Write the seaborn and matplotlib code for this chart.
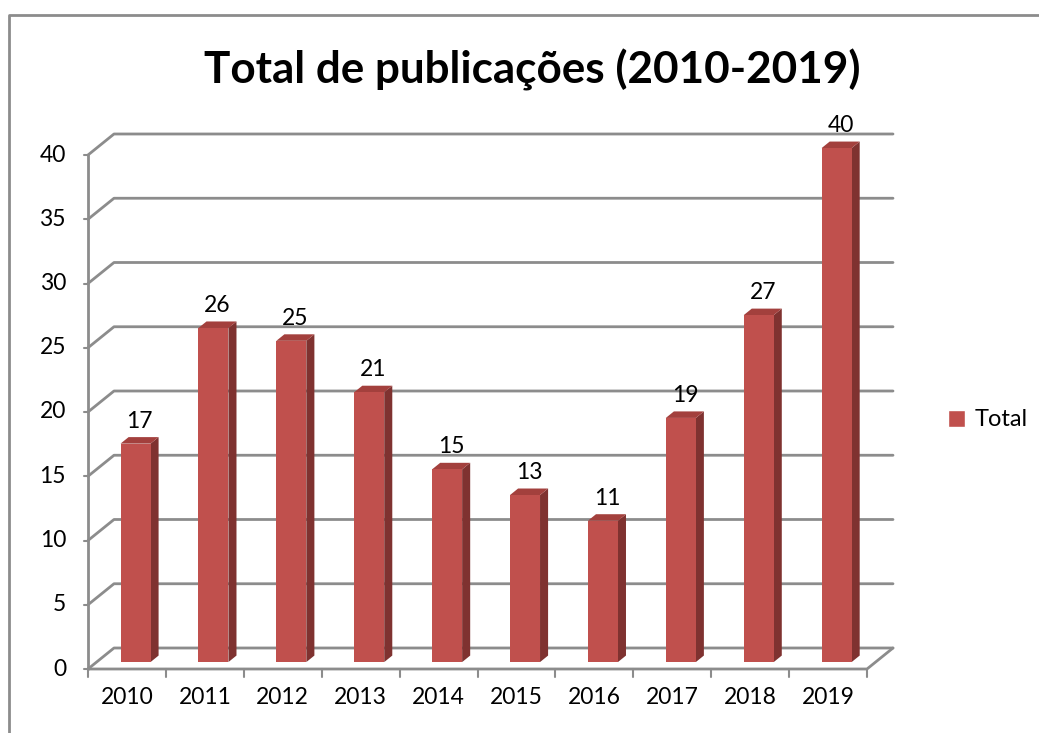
import matplotlib
matplotlib.use("Agg")
import matplotlib.pyplot as plt
import seaborn as sns
import pandas as pd
from matplotlib.patches import Polygon, Patch
from matplotlib.lines import Line2D

# ---- data ----
years = ["2010", "2011", "2012", "2013", "2014", "2015", "2016", "2017", "2018", "2019"]
totals = [17, 26, 25, 21, 15, 13, 11, 19, 27, 40]
series_name = "Total"
title = "Total de publicações (2010-2019)"
y_ticks = [0, 5, 10, 15, 20, 25, 30, 35, 40]

# ---- style ----
sns.set_style("white")
plt.rcParams["font.family"] = ["Lato", "DejaVu Sans"]
plt.rcParams["text.color"] = "black"
plt.rcParams["xtick.color"] = "black"
plt.rcParams["ytick.color"] = "black"

FRONT = "#C0504D"
SIDE = "#7F3230"
TOP = "#A3403D"
GRID = "#8C8C8C"
FS = 16.5

W, H = 1039, 733
fig = plt.figure(figsize=(W / 100, H / 100), dpi=100)

# geometry in pixels (front plane)
px_left, px_cat = 88, 77.9
py_zero, py_unit = 669, 12.85
ax_right_px, ax_top_px = 900, 130
xmin = -0.5
xmax = xmin + (ax_right_px - px_left) / px_cat
ymax = (py_zero - ax_top_px) / py_unit
ax = fig.add_axes([px_left / W, (H - py_zero) / H,
                   (ax_right_px - px_left) / W, (py_zero - ax_top_px) / H])

# 3D depth vector (data units)
DX = 26 / px_cat
DY = 21 / py_unit
F0, FD = 0.33, 0.31  # bar front depth fraction, bar depth fraction

df = pd.DataFrame({"year": years, "total": totals})
sns.barplot(data=df, x="year", y="total", color=FRONT, width=0.385,
            saturation=1, ax=ax, zorder=5, edgecolor="none")

# gridlines on back wall + side wall
for v in y_ticks:
    ax.add_line(Line2D([xmin, xmin + DX, 9.5 + DX], [v, v + DY, v + DY],
                       color=GRID, lw=2, zorder=1, clip_on=False))
# front axis line, floor front edge, floor right edge
ax.add_line(Line2D([xmin, xmin], [0, 40], color=GRID, lw=2, zorder=1, clip_on=False))
ax.add_line(Line2D([xmin, 9.5, 9.5 + DX], [0, 0, DY], color=GRID, lw=2, zorder=1, clip_on=False))
# y ticks
tick_dx = 4 / px_cat
for v in y_ticks:
    ax.add_line(Line2D([xmin - tick_dx, xmin], [v, v], color=GRID, lw=1.5, clip_on=False))
    ax.text(xmin - 22 / px_cat, v, str(v), ha="right", va="center", fontsize=FS)
# x ticks (category boundaries)
for i in range(len(years) + 1):
    ax.add_line(Line2D([i - 0.5, i - 0.5], [0, -8 / py_unit], color=GRID, lw=1.5, clip_on=False))

# 3D bars
bdx, bdy = FD * DX, FD * DY
for p, val in zip(ax.patches, totals):
    p.set_x(p.get_x() + F0 * DX)
    p.set_y(F0 * DY)
    x0, x1 = p.get_x(), p.get_x() + p.get_width()
    y0, y1 = p.get_y(), p.get_y() + p.get_height()
    ax.add_patch(Polygon([(x1, y0), (x1 + bdx, y0 + bdy), (x1 + bdx, y1 + bdy), (x1, y1)],
                         closed=True, facecolor=SIDE, edgecolor="none", zorder=4))
    ax.add_patch(Polygon([(x0, y1), (x0 + bdx, y1 + bdy), (x1 + bdx, y1 + bdy), (x1, y1)],
                         closed=True, facecolor=TOP, edgecolor="none", zorder=4))
    ax.annotate(str(val), ((x0 + x1) / 2 + bdx / 2, y1 + bdy), xytext=(0, 4),
                textcoords="offset points", ha="center", va="bottom", fontsize=FS,
                zorder=6)

ax.set_xlim(xmin, xmax)
ax.set_ylim(0, ymax)
ax.set_xticks(range(len(years)))
ax.set_xticklabels(years, fontsize=FS)
ax.tick_params(axis="x", length=0, pad=13)
ax.set_yticks([])
ax.set_xlabel("")
ax.set_ylabel("")
for s in ax.spines.values():
    s.set_visible(False)
ax.patch.set_alpha(0)

fig.text(532 / W, 1 - 70 / H, title, ha="center", va="center",
         fontsize=31.7, fontweight="bold")

fig.legend(handles=[Patch(facecolor=FRONT, label=series_name)],
           loc="center left", bbox_to_anchor=(948 / W, 1 - 420 / H),
           frameon=False, fontsize=17, handlelength=0.72, handleheight=0.72,
           handletextpad=0.4, borderpad=0, borderaxespad=0)

# outer chart border (runs off right and bottom)
fig.add_artist(Line2D([9 / W, 9 / W, 1.0], [0, 1 - 15 / H, 1 - 15 / H],
                      transform=fig.transFigure, color=GRID, lw=2))

fig.savefig("out.png", dpi=100)
